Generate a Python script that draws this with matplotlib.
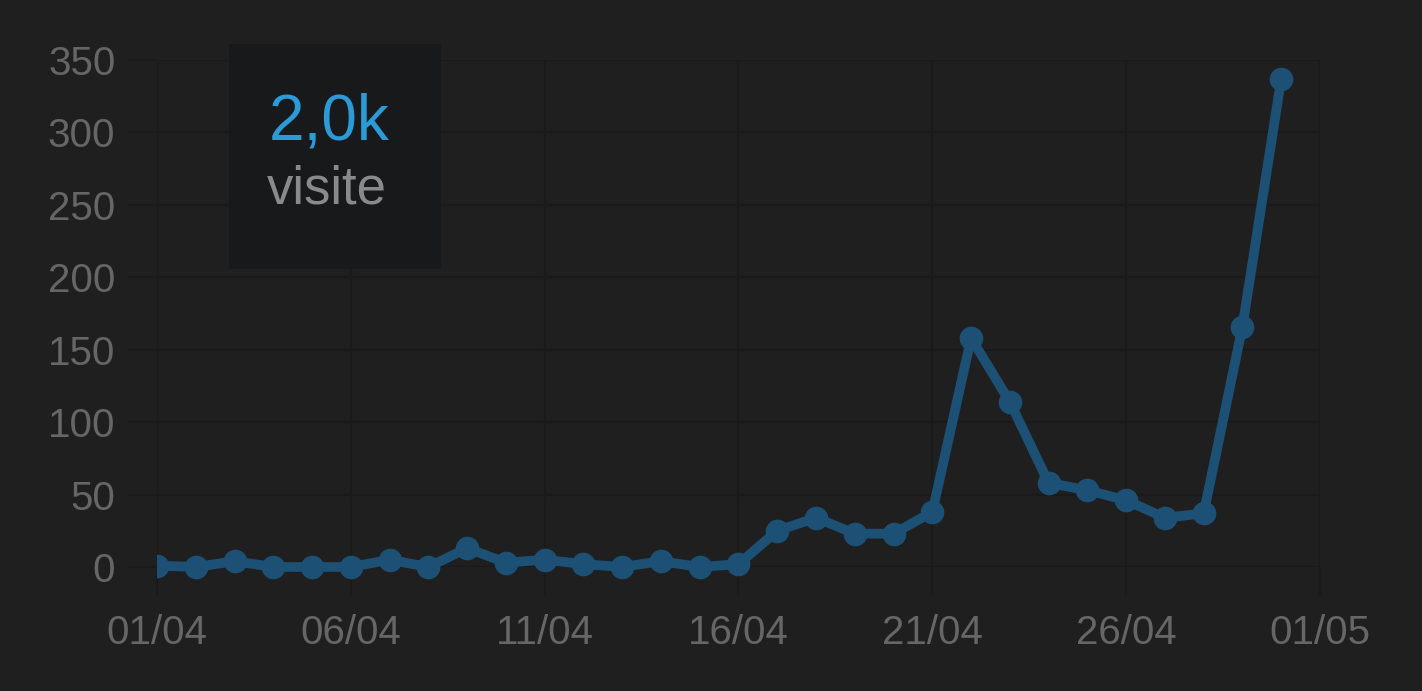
import pandas as pd
import numpy as np
import matplotlib
matplotlib.use('Agg')
import matplotlib.pyplot as plt
import matplotlib.dates as mdates
from matplotlib.patches import Rectangle

# daily visits, April
days = pd.date_range('2024-04-01', periods=30, freq='D')
visits = [1, 0, 4, 0, 0, 0, 5, 0, 13, 3,
          5, 2, 0, 4, 0, 2, 25, 34, 23, 23,
          38, 158, 114, 58, 53, 46, 34, 37, 166, 337]
y_ticks = [0, 50, 100, 150, 200, 250, 300, 350]
x_ticks = pd.date_range('2024-04-01', '2024-05-01', freq='5D')
total_label = '2,0k'
total_caption = 'visite'

bg = '#1f1f1f'
grid_col = '#1a1a1a'
label_col = '#666666'
line_col = '#1c5175'

plt.rcParams['font.family'] = ['Liberation Sans', 'DejaVu Sans']

fig = plt.figure(figsize=(14.22, 6.91), dpi=100, facecolor=bg)
ax = fig.add_axes([157 / 1422, 1 - 567 / 691, (1320 - 157) / 1422, (567 - 60) / 691])
ax.set_facecolor(bg)

line, = ax.plot(days, visits, color=line_col, linewidth=7, marker='o', markersize=16,
                solid_capstyle='round', zorder=3)
# clip only on the left/right edges, let markers at 0 show fully
clip = Rectangle((0, -0.2), 1, 1.4, transform=ax.transAxes, facecolor='none', edgecolor='none')
line.set_clip_path(clip)

ax.set_xlim(x_ticks[0], x_ticks[-1])
ax.set_ylim(0, 350)
ax.set_yticks(y_ticks)
ax.set_xticks(x_ticks)
ax.xaxis.set_major_formatter(mdates.DateFormatter('%d/%m'))

ax.grid(True, color=grid_col, linewidth=1.6, zorder=0)
for s in ax.spines.values():
    s.set_visible(False)
ax.tick_params(axis='y', length=21, width=1.6, color=grid_col, pad=9,
               labelsize=29, labelcolor=label_col)
ax.tick_params(axis='x', length=20, width=1.6, color=grid_col, pad=14,
               labelsize=29, labelcolor=label_col)

# summary box
fig.add_artist(Rectangle((229 / 1422, 1 - 269 / 691), (441 - 229) / 1422, (269 - 44) / 691,
                         transform=fig.transFigure, facecolor='#18191b',
                         edgecolor='none', zorder=5))
fig.text(329 / 1422, 1 - 140 / 691, total_label, color='#2b9ad6', fontsize=46,
         ha='center', va='baseline', zorder=6)
fig.text(327 / 1422, 1 - 203 / 691, total_caption, color='#8a8a8a', fontsize=38,
         ha='center', va='baseline', zorder=6)

fig.savefig('out.png', dpi=100, facecolor=bg)
